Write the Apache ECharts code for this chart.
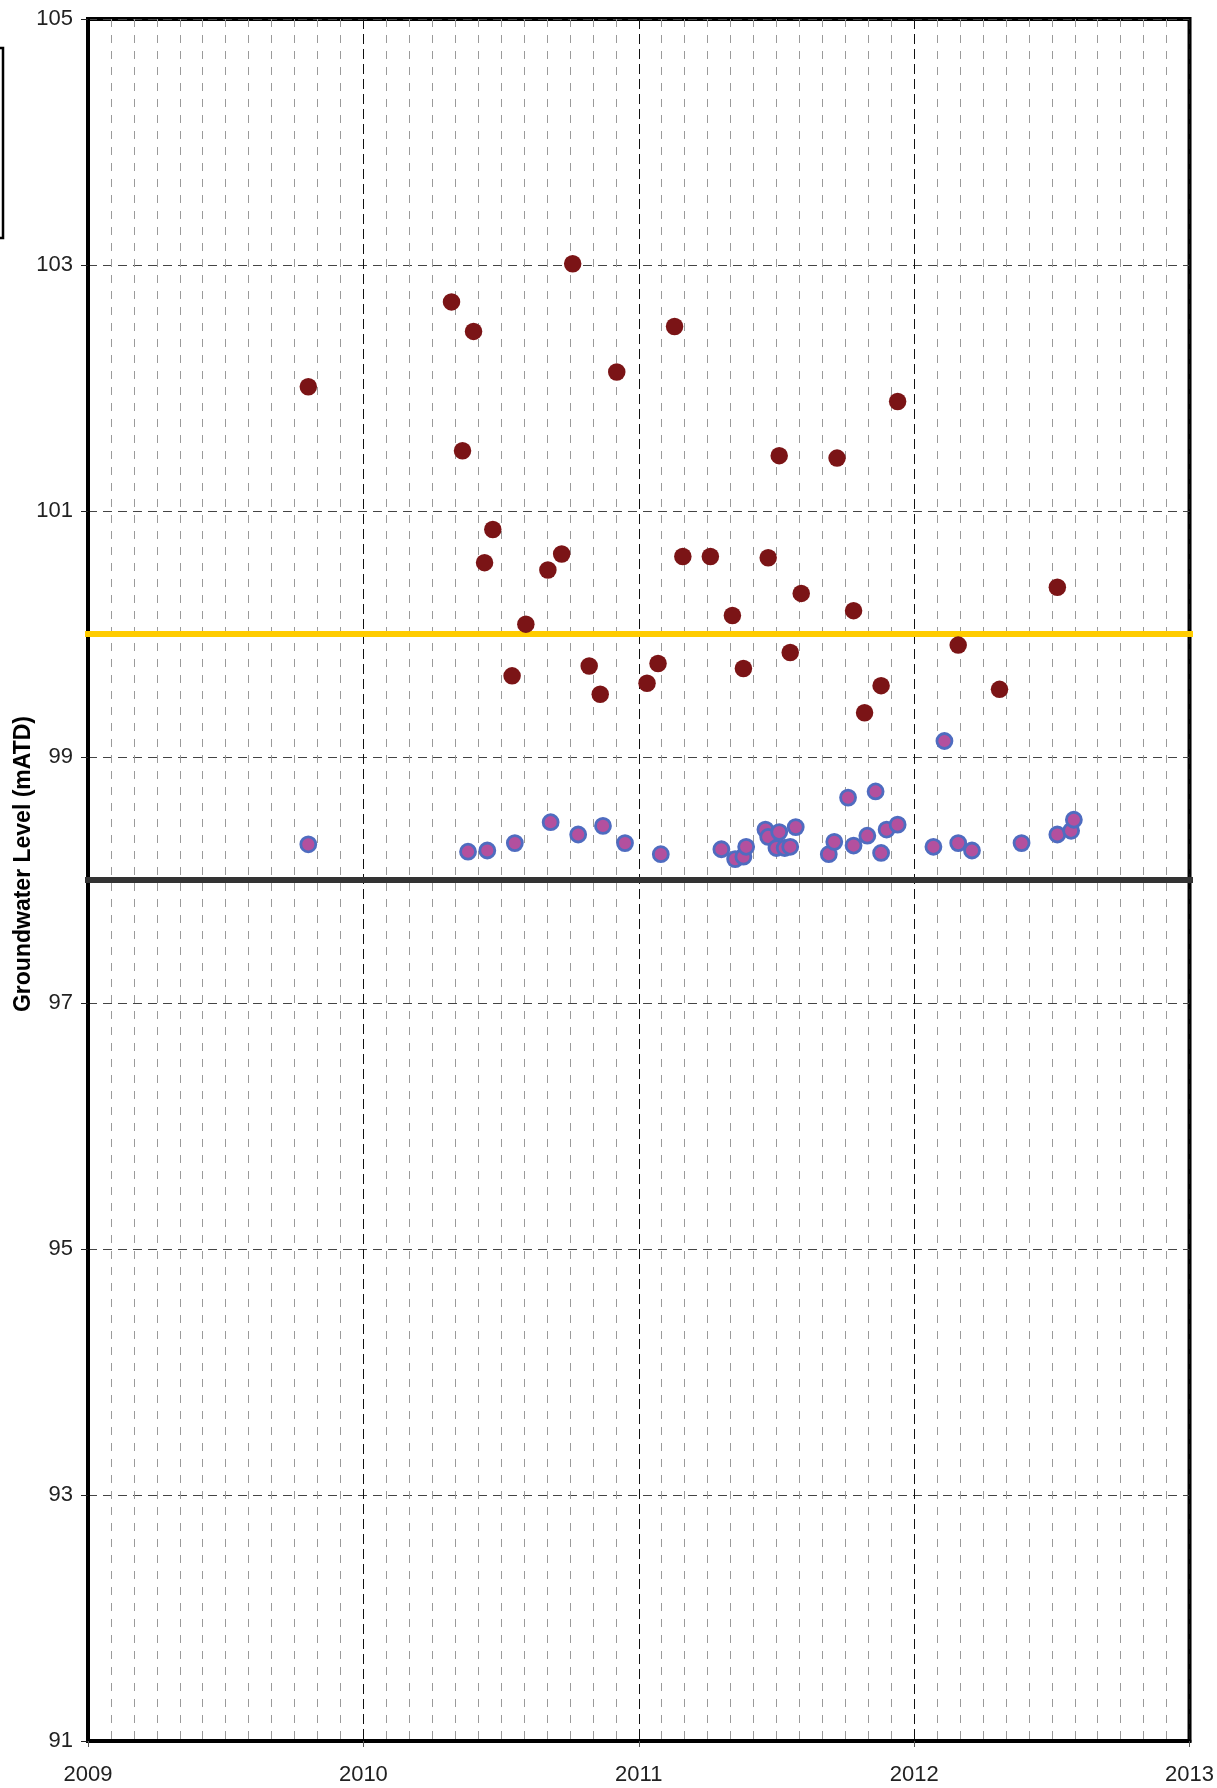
<!DOCTYPE html>
<html>
<head>
<meta charset="utf-8">
<script src="https://cdn.jsdelivr.net/npm/echarts@6/dist/echarts.min.js"></script>
<style>
html,body{margin:0;padding:0;background:#fff;}
#chart{width:1217px;height:1788px;}
</style>
</head>
<body>
<div id="chart"></div>
<script>
// ---- data (decimal years) ----
const yearTicks = [2009, 2010, 2011, 2012, 2013];
const levelTicks = [91, 93, 95, 97, 99, 101, 103, 105];
const yAxisTitle = 'Groundwater Level (mATD)';

const redDates = [2009.80, 2010.32, 2010.36, 2010.40, 2010.44, 2010.47, 2010.54, 2010.59, 2010.67, 2010.72,
  2010.76, 2010.82, 2010.86, 2010.92, 2011.03, 2011.07, 2011.13, 2011.16, 2011.26, 2011.34,
  2011.38, 2011.47, 2011.51, 2011.55, 2011.59, 2011.72, 2011.78, 2011.82, 2011.88, 2011.94,
  2012.16, 2012.31, 2012.52];
const redLevels = [102.01, 102.70, 101.49, 102.46, 100.58, 100.85, 99.66, 100.08, 100.52, 100.65,
  103.01, 99.74, 99.51, 102.13, 99.60, 99.76, 102.50, 100.63, 100.63, 100.15,
  99.72, 100.62, 101.45, 99.85, 100.33, 101.43, 100.19, 99.36, 99.58, 101.89,
  99.91, 99.55, 100.38];

const blueDates = [2009.80, 2010.38, 2010.45, 2010.55, 2010.68, 2010.78, 2010.87, 2010.95, 2011.08, 2011.30,
  2011.35, 2011.38, 2011.39, 2011.46, 2011.47, 2011.50, 2011.51, 2011.53, 2011.55, 2011.57,
  2011.69, 2011.71, 2011.76, 2011.78, 2011.83, 2011.86, 2011.88, 2011.90, 2011.94, 2012.07,
  2012.11, 2012.16, 2012.21, 2012.39, 2012.52, 2012.57, 2012.58];
const blueLevels = [98.29, 98.23, 98.24, 98.30, 98.47, 98.37, 98.44, 98.30, 98.21, 98.25,
  98.17, 98.19, 98.27, 98.41, 98.35, 98.26, 98.39, 98.26, 98.27, 98.43,
  98.21, 98.31, 98.67, 98.28, 98.36, 98.72, 98.22, 98.41, 98.45, 98.27,
  99.13, 98.30, 98.24, 98.30, 98.37, 98.40, 98.49];

const upperTrigger = 100;   // yellow line
const lowerTrigger = 98;    // dark line
const lineExtent = [2008.975, 2013.04];

// ---- chart ----
const chart = echarts.init(document.getElementById('chart'), null, {renderer: 'canvas'});
const FONT = 'Liberation Sans, Arial, Helvetica, sans-serif';
const zip = (xs, ys) => xs.map((x, i) => [x, ys[i]]);

const option = {
  animation: false,
  backgroundColor: '#ffffff',
  grid: {left: 88, top: 19, right: 26, bottom: 47, show: true, borderColor: '#000', borderWidth: 4, backgroundColor: 'transparent'},
  xAxis: {
    type: 'value',
    min: yearTicks[0], max: yearTicks[yearTicks.length - 1], interval: 1,
    axisLine: {show: true, lineStyle: {color: '#000', width: 4}},
    axisTick: {show: true, length: 6, lineStyle: {color: '#555', width: 1}},
    axisLabel: {fontSize: 22, color: '#222', fontFamily: FONT, margin: 23, formatter: v => String(Math.round(v))},
    splitLine: {show: true, lineStyle: {color: '#111', width: 1, type: [10, 5]}},
    minorTick: {show: false, splitNumber: 12},
    minorSplitLine: {show: true, lineStyle: {color: '#9a9a9a', width: 1, type: [8, 8]}}
  },
  yAxis: {
    type: 'value',
    min: levelTicks[0], max: levelTicks[levelTicks.length - 1], interval: 2,
    axisLine: {show: true, lineStyle: {color: '#000', width: 4}},
    axisTick: {show: true, length: 7, lineStyle: {color: '#222', width: 1}},
    axisLabel: {fontSize: 22, color: '#222', fontFamily: FONT, margin: 15},
    splitLine: {show: true, lineStyle: {color: '#444', width: 1, type: [9, 6]}}
  },
  graphic: [
    {type: 'rect', shape: {x: -10, y: 48, width: 13, height: 190}, style: {fill: 'none', stroke: '#000', lineWidth: 2.5}},
    {type: 'text', x: 24, y: 864, rotation: Math.PI / 2,
      style: {text: yAxisTitle, textAlign: 'center', textVerticalAlign: 'middle', fill: '#000',
        font: 'bold 23px ' + FONT}}
  ],
  series: [
    {type: 'line', data: lineExtent.map(x => [x, upperTrigger]), symbol: 'none', clip: false, z: 3,
      lineStyle: {color: '#FFCC00', width: 6}, silent: true},
    {type: 'line', data: lineExtent.map(x => [x, lowerTrigger]), symbol: 'none', clip: false, z: 3,
      lineStyle: {color: '#333333', width: 6}, silent: true},
    {type: 'scatter', data: zip(redDates, redLevels), symbol: 'circle', symbolSize: 17.5, z: 5,
      itemStyle: {color: '#7B1416', opacity: 1}},
    {type: 'scatter', data: zip(blueDates, blueLevels), symbol: 'circle', symbolSize: 15, z: 5,
      itemStyle: {color: '#B3509E', borderColor: '#4F6CC0', borderWidth: 2.8, opacity: 1}}
  ]
};
chart.setOption(option);
</script>
</body>
</html>
